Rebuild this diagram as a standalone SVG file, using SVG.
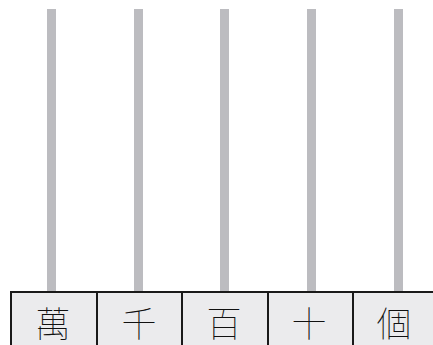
<svg xmlns="http://www.w3.org/2000/svg" width="433" height="345" viewBox="0 0 433 345">
<style>
.rod{fill:#bcbcc0}
.cell{fill:#ebebed}
.edge{fill:none;stroke:#1a1a1a;stroke-width:2}
.lbl{font-family:"Noto Sans CJK TC","Noto Sans CJK JP",sans-serif;font-weight:100;font-size:35px;fill:#111;text-anchor:middle;dominant-baseline:central}
</style>
<rect width="433" height="345" fill="#fff"/>
<g id="connectors">
<rect class="rod" x="47" y="9" width="9" height="283"/>
<rect class="rod" x="134" y="9" width="9" height="283"/>
<rect class="rod" x="220" y="9" width="9" height="283"/>
<rect class="rod" x="307" y="9" width="9" height="283"/>
<rect class="rod" x="394" y="9" width="9" height="283"/>
</g>
<g id="wan"><rect class="cell" x="11" y="292" width="86" height="53"/><path class="edge" d="M11,345V292H97"/><text class="lbl" x="53" y="321">萬</text></g>
<g id="qian"><rect class="cell" x="97" y="292" width="85" height="53"/><path class="edge" d="M97,345V292H182"/><text class="lbl" x="139" y="321">千</text></g>
<g id="bai"><rect class="cell" x="182" y="292" width="86" height="53"/><path class="edge" d="M182,345V292H268"/><text class="lbl" x="224" y="321">百</text></g>
<g id="shi"><rect class="cell" x="268" y="292" width="85" height="53"/><path class="edge" d="M268,345V292H353"/><text class="lbl" x="309" y="321">十</text></g>
<g id="ge"><rect class="cell" x="353" y="292" width="80" height="53"/><path class="edge" d="M353,345V292H433"/><text class="lbl" x="394" y="321">個</text></g>
</svg>
